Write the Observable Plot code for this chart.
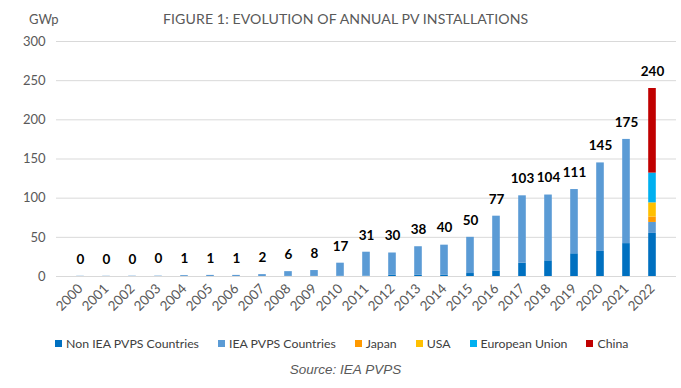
<!DOCTYPE html>
<html><head><meta charset="utf-8">
<script src="https://cdn.jsdelivr.net/npm/d3@7"></script>
<script src="https://cdn.jsdelivr.net/npm/@observablehq/plot@0.6"></script>
<style>
body{margin:0;background:#fff;width:681px;height:388px;overflow:hidden;font-family:Lato,"Open Sans",sans-serif;}
#head{position:relative;height:32px;}
#unit{position:absolute;left:29px;top:11px;font-size:13px;color:#595959;}
#title{position:absolute;left:163px;top:10px;font-size:14.1px;color:#595959;white-space:nowrap;letter-spacing:0.1px;}
#chart svg{display:block;}
#legend{display:flex;align-items:center;height:22px;padding-left:55px;font-size:12.3px;color:#404040;margin-top:0px;}
#legend .it{display:flex;align-items:center;margin-right:19px;white-space:nowrap;}
#legend .sw{width:7px;height:7px;margin-right:4px;}
#source{text-align:center;font-family:"Liberation Sans",Arial,sans-serif;font-style:italic;font-size:13.5px;color:#595959;margin-top:8px;padding-left:10px;}
</style></head>
<body>
<div id="head"><span id="unit">GWp</span><span id="title">FIGURE 1: EVOLUTION OF ANNUAL PV INSTALLATIONS</span></div>
<div id="chart"></div>
<div id="legend"></div>
<div id="source">Source: IEA PVPS</div>
<script>
const years = ["2000","2001","2002","2003","2004","2005","2006","2007","2008","2009","2010","2011","2012","2013","2014","2015","2016","2017","2018","2019","2020","2021","2022"];
const seriesNames = ["Non IEA PVPS Countries","IEA PVPS Countries","Japan","USA","European Union","China"];
const seriesColors = ["#0070C0","#5B9BD5","#FF9900","#FFC000","#00B0F0","#C00000"];
const nonIEA  = [0,0,0,0,0,0,0,0,0.1,0.1,0.2,0.5,1.5,1.5,1.5,3.8,7,17,20,29,32,42,55];
const ieaPvps = [0.3,0.3,0.4,0.45,1.1,1.4,1.4,2.4,6.1,7.5,16.8,30.5,28.5,36.5,38.5,46.2,70,86,84,82,113,133,14];
const japan   = [0,0,0,0,0,0,0,0,0,0,0,0,0,0,0,0,0,0,0,0,0,0,7];
const usa     = [0,0,0,0,0,0,0,0,0,0,0,0,0,0,0,0,0,0,0,0,0,0,18];
const eu      = [0,0,0,0,0,0,0,0,0,0,0,0,0,0,0,0,0,0,0,0,0,0,38];
const china   = [0,0,0,0,0,0,0,0,0,0,0,0,0,0,0,0,0,0,0,0,0,0,108];
const yTicks = [0,50,100,150,200,250,300];

const seriesVals = [nonIEA, ieaPvps, japan, usa, eu, china];
const rows = [];
seriesVals.forEach((arr, si) => arr.forEach((v, i) => rows.push({year: years[i], series: seriesNames[si], value: v})));
const totals = years.map((y, i) => ({year: y, total: d3.sum(seriesVals, a => a[i])}));

const chart = Plot.plot({
  width: 681, height: 300,
  marginTop: 9, marginBottom: 56, marginLeft: 56, marginRight: 5,
  style: {color: "#595959", fontFamily: "Lato, 'Open Sans', sans-serif", background: "#fff"},
  x: {type: "band", domain: years, padding: 0, label: null},
  y: {domain: [0, 300], label: null},
  color: {domain: seriesNames, range: seriesColors},
  marks: [
    Plot.gridY(yTicks, {stroke: "#d9d9d9", strokeOpacity: 1}),
    Plot.axisY({ticks: yTicks, tickSize: 0, tickPadding: 11, fontSize: 13, label: null}),
    Plot.axisX({tickRotate: -45, tickSize: 0, tickPadding: 10, fontSize: 13.5, label: null}),
    Plot.barY(rows, {x: "year", y: "value", fill: "series", insetLeft: 9.2, insetRight: 9.2}),
    Plot.text(totals, {x: "year", y: "total", text: d => String(Math.round(d.total)), dy: -17, fontWeight: "bold", fontSize: 13.5, fill: "#000"})
  ]
});
document.getElementById("chart").appendChild(chart);

const lg = document.getElementById("legend");
seriesNames.forEach((n, i) => {
  const it = document.createElement("span"); it.className = "it";
  const sw = document.createElement("span"); sw.className = "sw"; sw.style.background = seriesColors[i];
  it.appendChild(sw); it.appendChild(document.createTextNode(n)); lg.appendChild(it);
});
</script>
</body></html>
